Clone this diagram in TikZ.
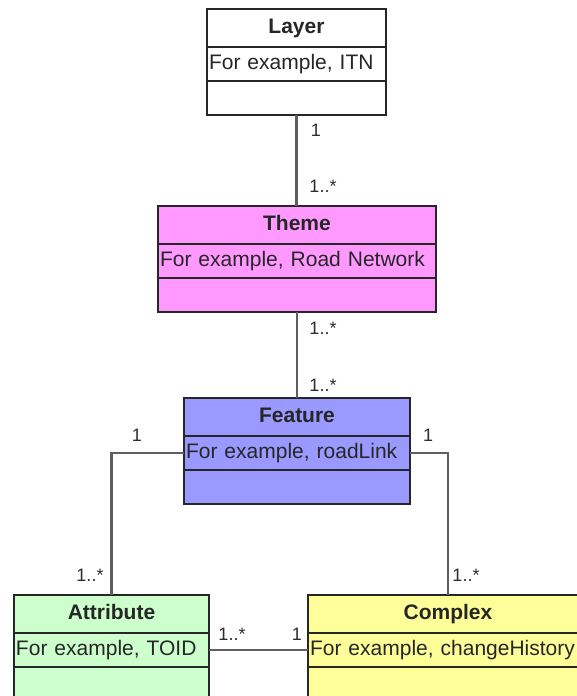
\documentclass[tikz,border=0pt]{standalone}
\usepackage{fontspec}
\setmainfont{Liberation Sans}
\usetikzlibrary{positioning}
\usepackage{xcolor}

\definecolor{themepink}{RGB}{255,153,255}
\definecolor{featureblue}{RGB}{153,153,255}
\definecolor{attrgreen}{RGB}{204,255,204}
\definecolor{complexyellow}{RGB}{255,255,153}
\definecolor{linkgrey}{RGB}{95,95,95}
\definecolor{labelgrey}{RGB}{45,45,45}

\tikzset{
  classrow/.style={draw=black!85, line width=1.3pt, inner xsep=2pt, inner ysep=0pt, outer sep=0pt,
    text height=15pt, text depth=4pt, font=\fontsize{21}{24}\selectfont, text=black!85},
  titlerow/.style={classrow, minimum height=38pt, align=center, font=\fontsize{21}{24}\selectfont\bfseries},
  attrrow/.style={classrow, minimum height=34pt, align=left},
  opsrow/.style={classrow, minimum height=34pt},
  assoc/.style={draw=linkgrey, line width=2.4pt},
  mult/.style={text=labelgrey, inner sep=0pt, font=\fontsize{18}{20}\selectfont}
}

% class box: name, x, y, text width, colour, title, example
\newcommand{\umlclass}[7]{%
  \node[titlerow, fill=#5, text width=#4pt, anchor=north west] (#1) at (#2,#3) {#6};
  \node[attrrow, fill=#5, text width=#4pt, below=0pt of #1] (#1-attr) {#7};
  \node[opsrow, fill=#5, text width=#4pt, below=0pt of #1-attr] (#1-ops) {};
}

\begin{document}
\begin{tikzpicture}[x=1pt,y=1pt,yscale=-1,xscale=1]
\clip (0,0) rectangle (577,696);
\fill[white] (0,0) rectangle (577,696);

% classes
\umlclass{layer}{207}{9}{175}{white}{Layer}{For example, ITN}
\umlclass{theme}{158}{206}{274}{themepink}{Theme}{For example, Road Network}
\umlclass{feature}{184}{398}{222}{featureblue}{Feature}{For example, roadLink}
\umlclass{attribute}{14}{595}{191}{attrgreen}{Attribute}{For example, TOID}
\umlclass{complex}{308}{595}{276}{complexyellow}{Complex}{For example, changeHistory}

% associations
\draw[assoc] (layer-ops.south) -- (layer-ops.south |- theme.north);
\draw[assoc] (theme-ops.south) -- (theme-ops.south |- feature.north);
\draw[assoc] (feature-attr.west) -| (attribute.north);
\draw[assoc] (feature-attr.east) -| (complex.north);
\draw[assoc] (attribute-attr.east) -- (complex-attr.west);

% multiplicities
\node[mult] (m-layer) at (316,130) {1};
\node[mult] (m-theme-up) at (323,186) {1..*};
\node[mult] (m-theme-down) at (323,328) {1..*};
\node[mult] (m-feature-up) at (323,385) {1..*};
\node[mult] (m-feature-left) at (137,435) {1};
\node[mult] (m-attribute) at (90,575) {1..*};
\node[mult] (m-feature-right) at (428,435) {1};
\node[mult] (m-complex) at (466,575) {1..*};
\node[mult] (m-attribute-right) at (232,634) {1..*};
\node[mult] (m-complex-left) at (297,634) {1};

\end{tikzpicture}
\end{document}
